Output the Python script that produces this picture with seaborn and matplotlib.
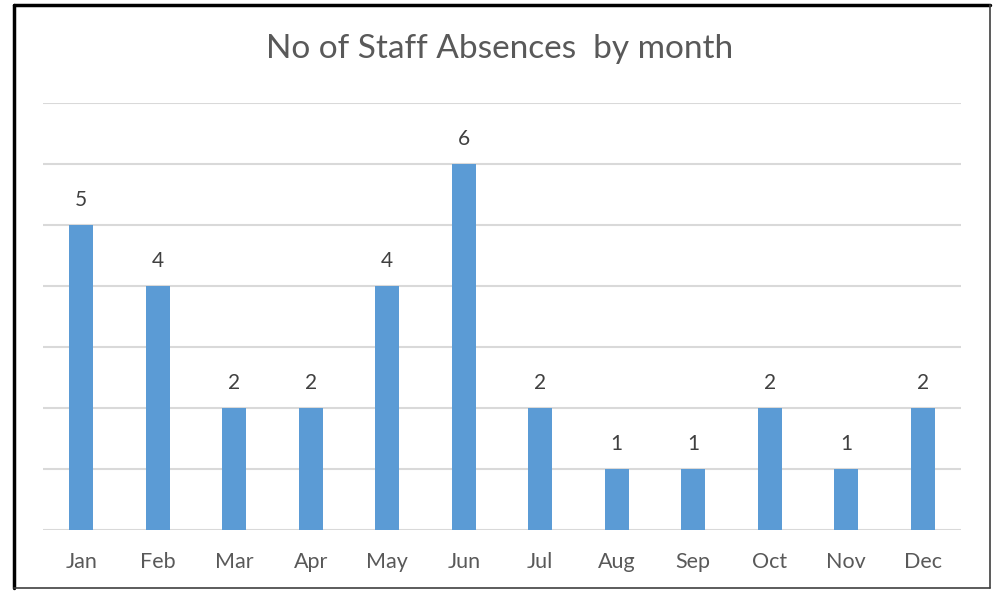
import matplotlib
matplotlib.use("Agg")
import matplotlib.pyplot as plt
import seaborn as sns
import pandas as pd
from matplotlib.lines import Line2D

# Data
months = ["Jan", "Feb", "Mar", "Apr", "May", "Jun", "Jul", "Aug", "Sep", "Oct", "Nov", "Dec"]
absences = [5, 4, 2, 2, 4, 6, 2, 1, 1, 2, 1, 2]
title = "No of Staff Absences  by month"

df = pd.DataFrame({"month": months, "absences": absences})

sns.set_style("white")
plt.rcParams["font.family"] = ["Lato", "DejaVu Sans"]

fig = plt.figure(figsize=(9.96, 5.91), dpi=100)
ax = fig.add_axes([43 / 996, 61 / 591, 918 / 996, 427 / 591])

sns.barplot(data=df, x="month", y="absences", color="#5B9BD5", saturation=1,
            width=0.32, linewidth=0, ax=ax, zorder=3)

ax.set_ylim(0, 7)
ax.set_xlim(-0.5, len(months) - 0.5)
ax.set_yticks(range(0, 8))
ax.yaxis.grid(True, color="#D9D9D9", linewidth=1.5, zorder=0)
ax.set_axisbelow(True)
ax.tick_params(axis="y", left=False, labelleft=False)
ax.tick_params(axis="x", bottom=False, labelsize=15.5, labelcolor="#595959", pad=12)
ax.set_xlabel("")
ax.set_ylabel("")
for s in ax.spines.values():
    s.set_visible(False)

for container in ax.containers:
    ax.bar_label(container, fmt="%d", padding=11, fontsize=15, color="#404040")

fig.text(0.502, 1 - 49 / 591, title, ha="center", va="center",
         fontsize=24, color="#595959")

# Frame round the chart
fig.add_artist(Line2D([14 / 996, 14 / 996], [1 - 588 / 591, 1 - 5 / 591],
                      color="black", linewidth=2.5, transform=fig.transFigure))
fig.add_artist(Line2D([14 / 996, 990 / 996], [1 - 5 / 591, 1 - 5 / 591],
                      color="black", linewidth=2.5, transform=fig.transFigure))
fig.add_artist(Line2D([990 / 996, 990 / 996], [1 - 588 / 591, 1 - 5 / 591],
                      color="#404040", linewidth=1.2, transform=fig.transFigure))
fig.add_artist(Line2D([14 / 996, 990 / 996], [1 - 588 / 591, 1 - 588 / 591],
                      color="#404040", linewidth=1.2, transform=fig.transFigure))

fig.savefig("out.png", dpi=100)
